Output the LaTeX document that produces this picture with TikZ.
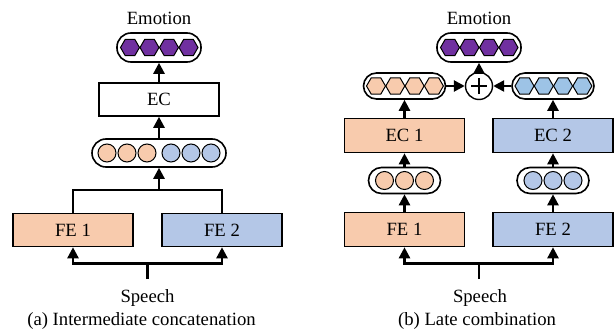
\documentclass[tikz,border=0pt]{standalone}
\usepackage{fontspec}
\setmainfont{Liberation Serif}
\usetikzlibrary{arrows.meta,shapes.geometric}
\definecolor{peach}{HTML}{F8CBAD}
\definecolor{steel}{HTML}{B4C7E7}
\definecolor{sky}{HTML}{9DC3E6}
\definecolor{grape}{HTML}{7030A0}
\begin{document}
\begin{tikzpicture}[x=1pt,y=-1pt,
  font=\fontsize{18.7}{22}\selectfont,
  blk/.style={draw,line width=1.6pt,minimum width=120pt,minimum height=33pt,inner sep=0pt},
  pill/.style={draw,line width=1.6pt,fill=white,inner sep=0pt,rounded corners=13pt},
  dot/.style={circle,draw,line width=1pt,minimum size=18pt,inner sep=0pt},
  hex/.style={regular polygon,regular polygon sides=6,draw,line width=1pt,minimum size=19pt,inner sep=0pt},
  link/.style={line width=2.5pt},
  arr/.style={link,-{Triangle[length=11pt,width=11pt]}}]
\useasboundingbox (0,0) rectangle (614,332);

% ---------- (a) intermediate concatenation ----------
\node (emoA) at (159,18) {Emotion};
\node[pill,minimum width=84pt,minimum height=29pt,rounded corners=14pt] (outA) at (159,47.5) {};
\foreach \i/\x in {1/130,2/149.5,3/169,4/188.5}
  \node[hex,fill=grape] (outA\i) at (\x,47.5) {};
\node[blk] (ecA) at (159,99.5) {EC};
\node[pill,minimum width=134pt,minimum height=28pt,rounded corners=14pt] (catA) at (159,153) {};
\foreach \i/\x/\c in {1/107/peach,2/127/peach,3/147/peach,4/171/steel,5/191/steel,6/211/steel}
  \node[dot,fill=\c] (catA\i) at (\x,153) {};
\node[blk,fill=peach] (feA1) at (73,230) {FE 1};
\node[blk,fill=steel] (feA2) at (222,230) {FE 2};
\coordinate (joinA) at (159,190);
\draw[link] (feA1.north) |- (joinA) -| (feA2.north);
\draw[arr] (joinA) -- (catA.south);
\draw[arr] (catA.north) -- (ecA.south);
\draw[arr] (ecA.north) -- (outA.south);
\coordinate (srcA) at (147.5,279);
\coordinate (forkA) at (147.5,263.5);
\draw[link] (srcA) -- (forkA);
\draw[arr] (forkA) -| (feA1.south);
\draw[arr] (forkA) -| (feA2.south);
\node (spA) at (147.5,298.5) {Speech};
\node (capA) at (141.5,321) {(a) Intermediate concatenation};

% ---------- (b) late combination ----------
\node (emoB) at (479,18) {Emotion};
\node[pill,minimum width=84pt,minimum height=29pt,rounded corners=14pt] (outB) at (479,47.5) {};
\foreach \i/\x in {1/450,2/469.5,3/489,4/508.5}
  \node[hex,fill=grape] (outB\i) at (\x,47.5) {};
\node[circle,draw,line width=1.4pt,minimum size=27pt,inner sep=0pt,fill=white] (sum) at (479,86) {};
\draw[line width=1.1pt] ([xshift=-8pt]sum.center) -- ([xshift=8pt]sum.center);
\draw[line width=1.1pt] ([yshift=-8pt]sum.center) -- ([yshift=8pt]sum.center);

\node[pill,minimum width=82pt,minimum height=26pt] (hexL) at (404.5,86) {};
\foreach \i/\x in {1/376,2/395.3,3/414.6,4/433.9}
  \node[hex,fill=peach] (hexL\i) at (\x,86) {};
\node[pill,minimum width=82pt,minimum height=26pt] (hexR) at (553,86) {};
\foreach \i/\x in {1/524.5,2/543.8,3/563.1,4/582.4}
  \node[hex,fill=sky] (hexR\i) at (\x,86) {};

\node[blk,minimum height=34pt,fill=peach] (ecB1) at (404.5,135.5) {EC 1};
\node[blk,minimum height=34pt,fill=steel] (ecB2) at (553,135.5) {EC 2};

\node[pill,minimum width=72pt,minimum height=26pt] (ftL) at (404.5,180.5) {};
\foreach \i/\x in {1/384.5,2/404.5,3/424.5}
  \node[dot,fill=peach] (ftL\i) at (\x,180.5) {};
\node[pill,minimum width=72pt,minimum height=26pt] (ftR) at (553,180.5) {};
\foreach \i/\x in {1/533,2/553,3/573}
  \node[dot,fill=steel] (ftR\i) at (\x,180.5) {};

\node[blk,minimum height=34pt,fill=peach] (feB1) at (404.5,229.5) {FE 1};
\node[blk,minimum height=34pt,fill=steel] (feB2) at (553,229.5) {FE 2};

\draw[arr] (feB1.north) -- (ftL.south);
\draw[arr] (feB2.north) -- (ftR.south);
\draw[arr] (ftL.north) -- (ecB1.south);
\draw[arr] (ftR.north) -- (ecB2.south);
\draw[arr] (ecB1.north) -- (hexL.south);
\draw[arr] (ecB2.north) -- (hexR.south);
\draw[arr] (hexL.east) -- (sum.west);
\draw[arr] (hexR.west) -- (sum.east);
\draw[arr] (sum.north) -- (outB.south);

\coordinate (srcB) at (479,279);
\coordinate (forkB) at (479,263.5);
\draw[link] (srcB) -- (forkB);
\draw[arr] (forkB) -| (feB1.south);
\draw[arr] (forkB) -| (feB2.south);
\node (spB) at (480,298.5) {Speech};
\node (capB) at (477,321) {(b) Late combination};
\end{tikzpicture}
\end{document}
